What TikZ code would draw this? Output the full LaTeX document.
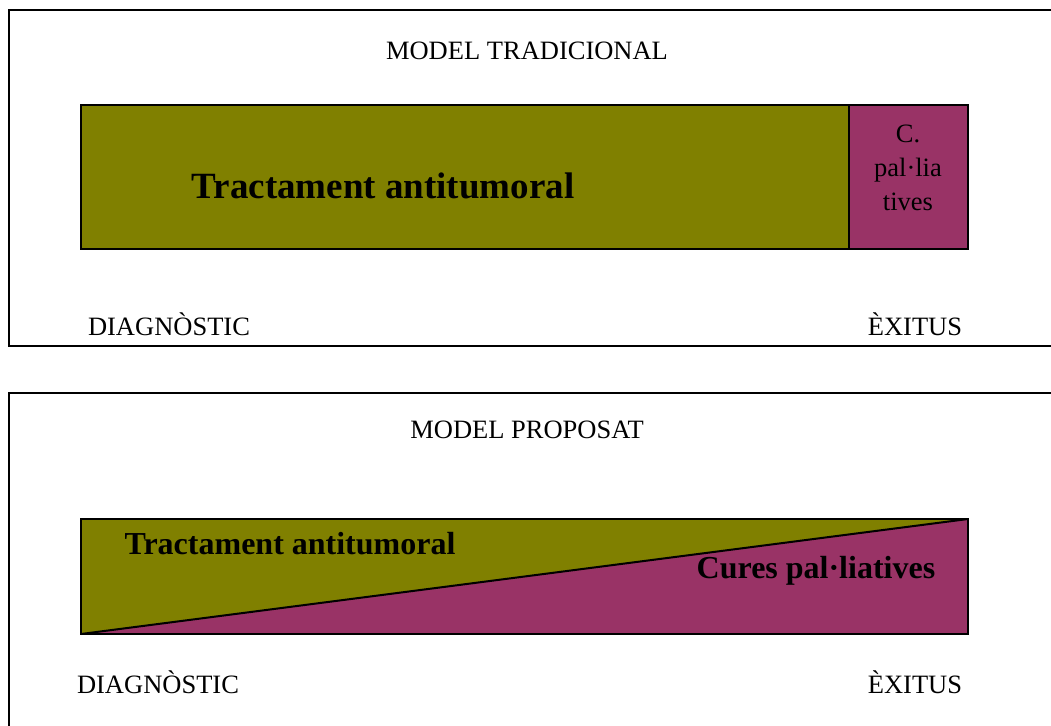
\documentclass[tikz,border=0pt]{standalone}
\usepackage{fontspec}
\setmainfont{Liberation Serif}
\definecolor{antitumor}{HTML}{808000}
\definecolor{palliative}{HTML}{993366}

\begin{document}
\begin{tikzpicture}[x=1pt,y=-1pt,
    frame/.style={draw, line width=1.5pt},
    bar/.style={draw, line width=2pt},
    caption/.style={font=\fontsize{26.5}{34}\selectfont, inner sep=0pt},
    phase/.style={font=\fontsize{37}{40}\selectfont\bfseries, inner sep=0pt},
    phasesmall/.style={font=\fontsize{32}{36}\selectfont\bfseries, inner sep=0pt}]
    \useasboundingbox (0,0) rectangle (1051,725);
    \def \left {81}
    \def \right {968}
    \def \split {849}

    % traditional model: two blocks side by side
    \draw[frame] (1080,10) -- (9,10) -- (9,346) -- (1080,346);
    \node[caption] (tradtitle) at (527,51) {MODEL TRADICIONAL};
    \draw[bar, fill=antitumor] (\left,105) rectangle (\split,249);
    \draw[bar, fill=palliative] (\split,105) rectangle (\right,249);
    \node[phase] (tradanti) at (383,186) {Tractament antitumoral};
    \node[caption, align=center] (tradpal) at (908,168) {C.\\pal·lia\\tives};
    \node[caption] (tradstart) at (169,324) {DIAGNÒSTIC};
    \node[caption] (tradend) at (915,324) {ÈXITUS};

    % proposed model: the two treatments overlap along a diagonal
    \draw[frame] (1080,393) -- (9,393) -- (9,760);
    \node[caption] (proptitle) at (527,430) {MODEL PROPOSAT};
    \fill[palliative] (\left,519) rectangle (\right,634);
    \fill[antitumor] (\left,519) -- (\right,519) -- (\left,634) -- cycle;
    \draw[bar] (\left,519) rectangle (\right,634);
    \draw[line width=2pt] (\left,634) -- (\right,519);
    \node[phasesmall] (propanti) at (290,544) {Tractament antitumoral};
    \node[phasesmall] (proppal) at (816,571) {Cures pal·liatives};
    \node[caption] (propstart) at (158,682) {DIAGNÒSTIC};
    \node[caption] (propend) at (915,682) {ÈXITUS};
\end{tikzpicture}
\end{document}
